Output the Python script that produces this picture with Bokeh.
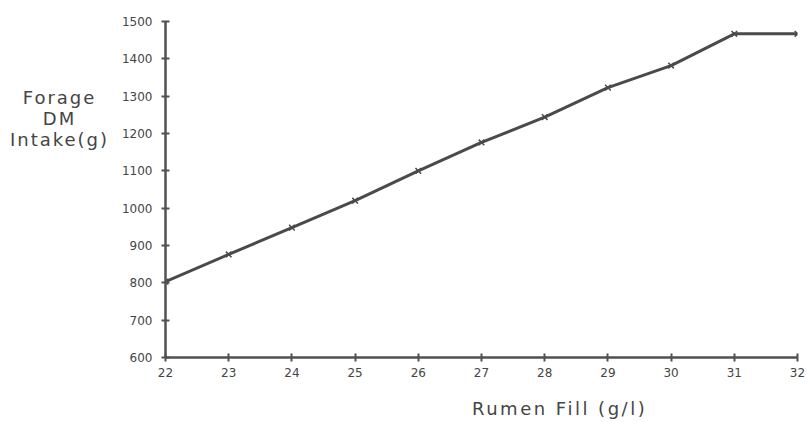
from bokeh.plotting import figure
from bokeh.models import Range1d, FixedTicker, Div
from bokeh.layouts import row, column
from bokeh.embed import file_html
from bokeh.resources import INLINE

rumen_fill = [22, 23, 24, 25, 26, 27, 28, 29, 30, 31, 32]
intake = [803, 876, 948, 1020, 1100, 1176, 1244, 1323, 1382, 1467, 1467]
x_ticks = [22, 23, 24, 25, 26, 27, 28, 29, 30, 31, 32]
y_ticks = [600, 700, 800, 900, 1000, 1100, 1200, 1300, 1400, 1500]
y_label_lines = ["Forage", "DM", "Intake(g)"]
x_label = "Rumen Fill (g/l)"

FONT = "DejaVu Sans"
AX = "#505050"
TXT = "#454545"

p = figure(width=699, height=390, output_backend="svg", toolbar_location=None,
           x_range=Range1d(22, 32), y_range=Range1d(600, 1500),
           min_border_left=56, min_border_right=11, min_border_top=21, min_border_bottom=33)
p.outline_line_color = None
p.xgrid.visible = False
p.ygrid.visible = False
p.background_fill_color = "white"
p.border_fill_color = "white"

for ax in (p.xaxis[0], p.yaxis[0]):
    ax.axis_line_color = AX
    ax.axis_line_width = 2.5
    ax.major_tick_line_color = AX
    ax.major_tick_line_width = 2
    ax.major_tick_in = 4
    ax.major_tick_out = 4
    ax.minor_tick_line_color = None
    ax.major_label_text_font = FONT
    ax.major_label_text_font_size = "12px"
    ax.major_label_text_color = TXT

p.xaxis[0].ticker = FixedTicker(ticks=x_ticks)
p.yaxis[0].ticker = FixedTicker(ticks=y_ticks)
p.xaxis[0].major_label_standoff = 6
p.yaxis[0].major_label_standoff = 9

p.line(rumen_fill, intake, line_color="#4a4a4a", line_width=3)
p.scatter(rumen_fill, intake, marker="x", size=8, line_color="#4a4a4a", line_width=1.5)

ylab = Div(text=('<div style="text-align:center;font-family:\'DejaVu Sans\';font-size:18px;'
                 'letter-spacing:2px;line-height:21px;color:%s;padding-top:87px;'
                 'margin-left:9px;width:101px;white-space:nowrap">%s</div>'
                 % (TXT, "<br>".join(y_label_lines))),
           width=109, height=390, margin=(0, 0, 0, 0))

xlab = Div(text=('<div style="font-family:\'DejaVu Sans\';font-size:18px;letter-spacing:2.5px;'
                 'line-height:21px;color:%s;padding-top:8px;padding-left:472px;'
                 'white-space:nowrap">%s</div>' % (TXT, x_label)),
           width=800, height=31, margin=(0, 0, 0, 0))

layout = column(row(ylab, p, spacing=0), xlab, spacing=0)

open("out.html", "w").write(file_html(layout, INLINE))
